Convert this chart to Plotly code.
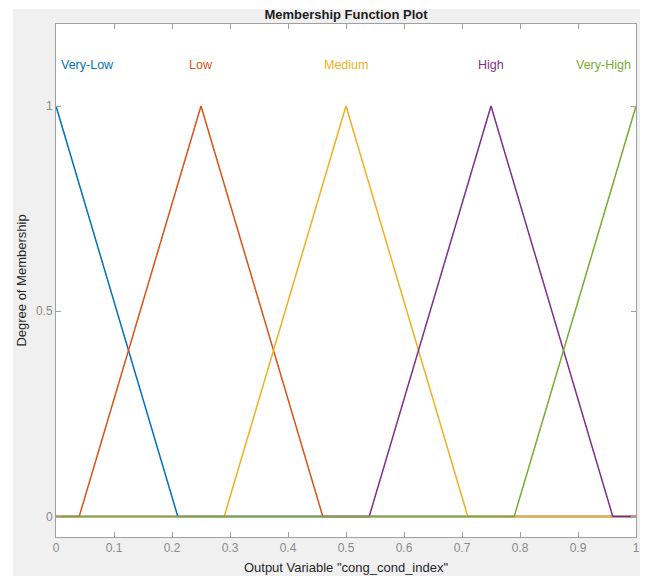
import plotly.graph_objects as go

# Membership functions (triangular): [a, b, c]
mf_names = ["Very-Low", "Low", "Medium", "High", "Very-High"]
mf_params = [
    [-0.21, 0.0, 0.21],
    [0.04, 0.25, 0.46],
    [0.29, 0.50, 0.71],
    [0.54, 0.75, 0.96],
    [0.79, 1.00, 1.21],
]
mf_colors = ["#0072BD", "#D95319", "#EDB120", "#7E2F8E", "#77AC30"]
x_ticks = [0, 0.1, 0.2, 0.3, 0.4, 0.5, 0.6, 0.7, 0.8, 0.9, 1]
x_tick_labels = ["0", "0.1", "0.2", "0.3", "0.4", "0.5", "0.6", "0.7", "0.8", "0.9", "1"]
y_ticks = [0, 0.5, 1]
y_tick_labels = ["0", "0.5", "1"]
x_min, x_max = 0.0, 1.0


def tri_points(a, b, c):
    pts = [(x_min, 0.0), (a, 0.0), (b, 1.0), (c, 0.0), (x_max, 0.0)]
    xs, ys = [], []
    for i in range(len(pts) - 1):
        (x0, y0), (x1, y1) = pts[i], pts[i + 1]
        if x1 < x0:
            continue
        lo, hi = max(x0, x_min), min(x1, x_max)
        if lo > hi:
            continue

        def interp(x):
            if x1 == x0:
                return y1
            return y0 + (y1 - y0) * (x - x0) / (x1 - x0)
        xs += [lo, hi]
        ys += [interp(lo), interp(hi)]
    return xs, ys


fig = go.Figure()
for name, p, col in zip(mf_names, mf_params, mf_colors):
    xs, ys = tri_points(*p)
    fig.add_trace(go.Scatter(x=xs, y=ys, mode="lines", name=name,
                             line=dict(color=col, width=1.5), showlegend=False))

# Labels above peaks
label_anchor = ["left", "center", "center", "center", "right"]
label_shift = [3, 0, 0, 0, -3]
for name, p, col, anc, sh in zip(mf_names, mf_params, mf_colors, label_anchor, label_shift):
    fig.add_annotation(x=min(max(p[1], x_min), x_max), y=1.1, text=name, showarrow=False,
                       xanchor=anc, xshift=sh, yanchor="middle",
                       font=dict(color=col, size=12.5, family="Liberation Sans, Arial"))

# page has an 8px body margin: figure occupies page pixels 8..648 x 8..576
OFF = 8
W, H = 640, 568
L, R, T, B = 56 - OFF, 12, 24 - OFF, 39
pw, ph = W - L - R, H - T - B


def px_to_paper_x(px):
    return (px - OFF - L) / pw


def py_to_paper_y(py):
    return (H - B - (py - OFF)) / ph


fig.add_shape(type="rect", xref="paper", yref="paper",
              x0=px_to_paper_x(13), x1=px_to_paper_x(645),
              y0=py_to_paper_y(600), y1=py_to_paper_y(9),
              fillcolor="#f0f0f0", line=dict(width=0), layer="below")
fig.add_shape(type="rect", xref="paper", yref="paper", x0=0, x1=1, y0=0, y1=1,
              fillcolor="white", line=dict(width=0), layer="below")

axis_common = dict(showgrid=False, zeroline=False, showline=True, linecolor="#a0a0a0",
                   linewidth=1, mirror="ticks", ticks="inside", ticklen=5, automargin=False,
                   tickcolor="#a0a0a0", tickfont=dict(color="#8a8a8a", size=12,
                                                      family="Liberation Sans, Arial"))

fig.update_layout(
    width=W, height=H,
    margin=dict(l=L, r=R, t=T, b=B, pad=0, autoexpand=False),
    paper_bgcolor="white", plot_bgcolor="rgba(0,0,0,0)",
    title=dict(text="<b>Membership Function Plot</b>", x=(L + pw / 2) / W, xanchor="center",
               y=1 - (14 - OFF) / H, yanchor="middle",
               font=dict(size=13, color="#202020", family="Liberation Sans, Arial")),
    xaxis=dict(range=[x_min, x_max], tickvals=x_ticks, ticktext=x_tick_labels,
               title=dict(text='Output Variable "cong_cond_index"', standoff=8,
                          font=dict(size=13, color="#262626", family="Liberation Sans, Arial")),
               **axis_common),
    yaxis=dict(range=[-0.05, 1.2], tickvals=y_ticks, ticktext=y_tick_labels,
               title=dict(text="Degree of Membership", standoff=6,
                          font=dict(size=13, color="#262626", family="Liberation Sans, Arial")),
               **axis_common),
)

fig.write_html("out.html")
